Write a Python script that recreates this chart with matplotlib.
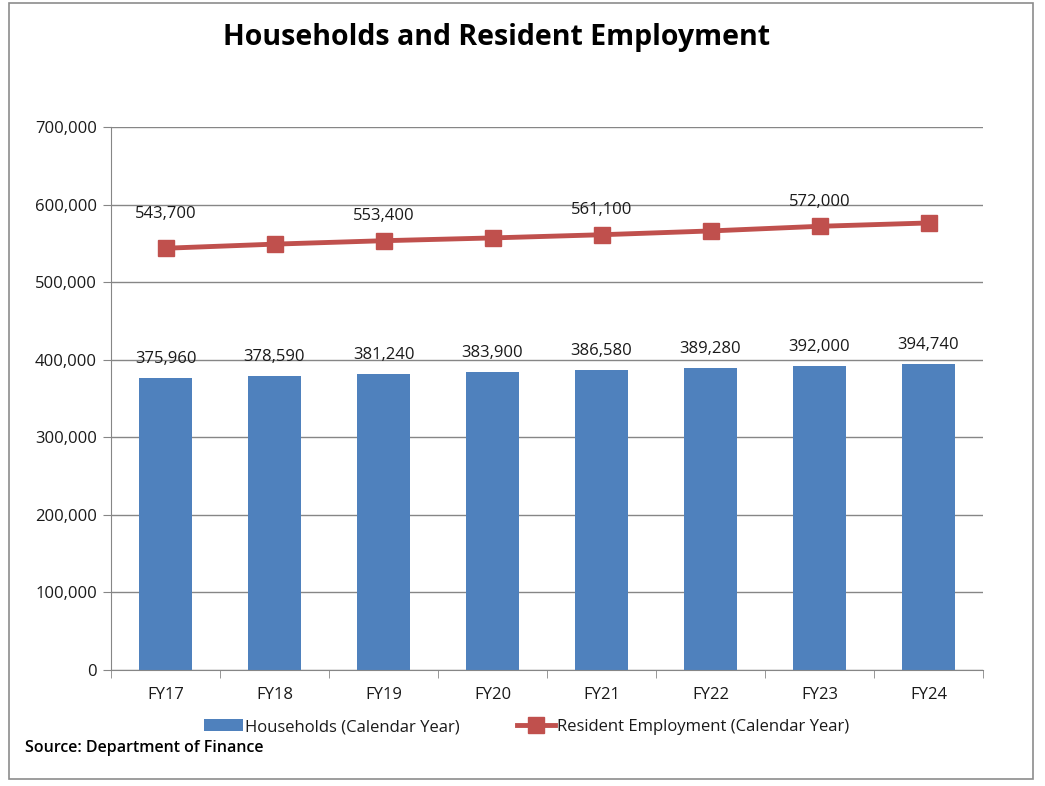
import matplotlib

matplotlib.use("Agg")
import matplotlib.pyplot as plt
from matplotlib.patches import Rectangle
from matplotlib.ticker import FuncFormatter, MultipleLocator

plt.rcParams["font.family"] = ["Open Sans", "DejaVu Sans"]

years = ["FY17", "FY18", "FY19", "FY20", "FY21", "FY22", "FY23", "FY24"]
households = [375960, 378590, 381240, 383900, 386580, 389280, 392000, 394740]
employment = [543700, 549000, 553400, 557000, 561100, 566000, 572000, 576300]
employment_labels = ["543,700", "", "553,400", "", "561,100", "", "572,000", ""]

BAR_COLOR = "#4F81BD"
LINE_COLOR = "#C0504D"
GRID_COLOR = "#868686"
TEXT_COLOR = "#1a1a1a"

fig = plt.figure(figsize=(10.45, 7.86), dpi=100)
fig.patches.append(
    Rectangle((9 / 1045, 1 - 779 / 786), 1024 / 1045, 776 / 786,
              transform=fig.transFigure, fill=False, edgecolor="#8c8c8c", linewidth=1.2)
)

ax = fig.add_axes([111 / 1045, 1 - 670 / 786, 872 / 1045, 543 / 786])
x = list(range(len(years)))

bars = ax.bar(x, households, width=0.48, color=BAR_COLOR, zorder=2,
              label="Households (Calendar Year)")
line, = ax.plot(x, employment, color=LINE_COLOR, linewidth=3.5, marker="s",
                markersize=11, zorder=3, label="Resident Employment (Calendar Year)")

for xi, val in zip(x, households):
    ax.annotate(f"{val:,}", (xi, val), xytext=(0, 8), textcoords="offset points",
                ha="center", va="bottom", fontsize=12, color=TEXT_COLOR)

# first label sits a little higher than the rest in the original
for i, (xi, val, lab) in enumerate(zip(x, employment, employment_labels)):
    if lab:
        lift = 19 if i == 0 else 12
        ax.annotate(lab, (xi, val), xytext=(0, lift), textcoords="offset points",
                    ha="center", va="bottom", fontsize=12, color=TEXT_COLOR)

ax.set_xlim(-0.5, len(years) - 0.5)
ax.set_ylim(0, 700000)
ax.yaxis.set_major_locator(MultipleLocator(100000))
ax.yaxis.set_major_formatter(FuncFormatter(lambda v, _: f"{int(v):,}"))
ax.grid(axis="y", color=GRID_COLOR, linewidth=1.0, zorder=0)
ax.set_axisbelow(True)

ax.set_xticks(x)
ax.set_xticklabels(years)
ax.set_xticks([i - 0.5 for i in range(len(years) + 1)], minor=True)
ax.tick_params(axis="x", which="major", length=0, pad=12, labelsize=12, labelcolor=TEXT_COLOR)
ax.tick_params(axis="x", which="minor", length=6, color=GRID_COLOR)
ax.tick_params(axis="y", length=6, color=GRID_COLOR, labelsize=12, labelcolor=TEXT_COLOR, pad=4)

for side in ("top", "right"):
    ax.spines[side].set_visible(False)
for side in ("left", "bottom"):
    ax.spines[side].set_color(GRID_COLOR)

fig.text(497 / 1045, 1 - 38 / 786, "Households and Resident Employment",
         ha="center", va="center", fontsize=20.5, fontweight="bold", color="black")

fig.legend(handles=[bars, line], loc="center", bbox_to_anchor=(527 / 1045, 1 - 727 / 786),
           ncol=2, frameon=False, fontsize=12, handlelength=2.3, handletextpad=0.15,
           columnspacing=3.4, labelcolor=TEXT_COLOR)

fig.text(25 / 1045, 1 - 748 / 786, "Source: Department of Finance",
         ha="left", va="center", fontsize=11.5, fontweight="semibold", color="black")

fig.savefig("out.png", dpi=100)
